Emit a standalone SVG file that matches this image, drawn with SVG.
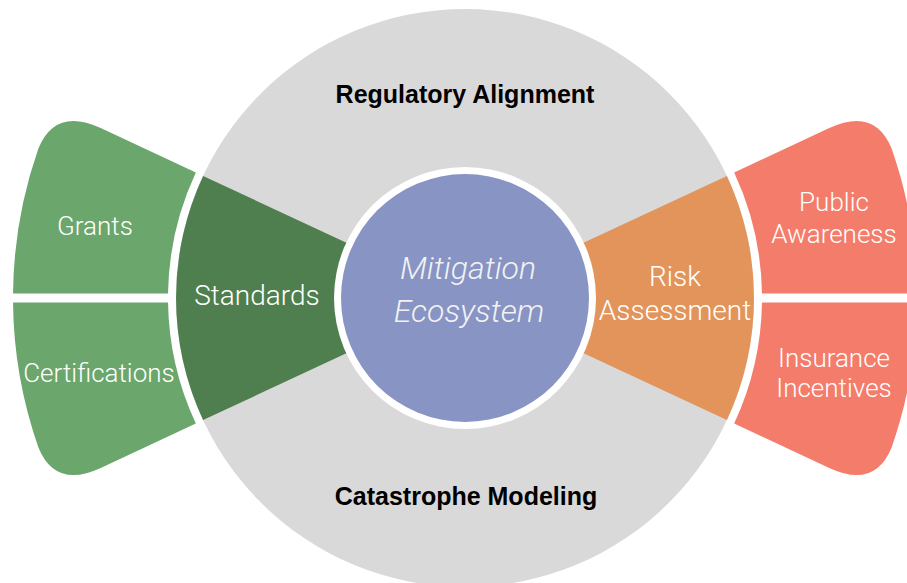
<svg xmlns="http://www.w3.org/2000/svg" width="907" height="583" viewBox="0 0 907 583">
  <style>
    .ring { fill: #D9D9D9; }
    .core-seg { stroke: none; }
    .left-core { fill: #4F7F4E; }
    .right-core { fill: #E2945A; }
    .left-outer { fill: #6BA66C; }
    .right-outer { fill: #F47C6A; }
    .hub-rim { fill: #FFFFFF; }
    .hub { fill: #8794C4; }
    .ring-label { font-family: "Liberation Sans", Arial, sans-serif; font-weight: bold; font-size: 25px; fill: #000000; text-anchor: middle; }
    .label { font-family: Roboto, "Noto Sans", sans-serif; font-weight: 300; fill: #FFFFFF; text-anchor: middle; }
    .lg { font-size: 28px; }
    .sm { font-size: 26px; }
    .hub-label { font-family: Roboto, "Noto Sans", sans-serif; font-weight: 300; font-style: italic; font-size: 32px; fill: #F2F2F2; text-anchor: middle; }
  </style>

  <!-- outer ring carrying the two framework labels -->
  <g id="ring">
    <circle class="ring" cx="465" cy="298" r="289"/>
    <text class="ring-label" x="465" y="103">Regulatory Alignment</text>
    <text class="ring-label" x="466" y="505">Catastrophe Modeling</text>
  </g>

  <!-- inner wedges on either side of the hub -->
  <g id="standards">
    <path class="left-core" d="M465,298 L203.1,175.9 A289,289 0 0 0 203.1,420.1 Z"/>
    <text class="label lg" x="257" y="305">Standards</text>
  </g>
  <g id="risk-assessment">
    <path class="right-core" d="M465,298 L726.9,175.9 A289,289 0 0 1 726.9,420.1 Z"/>
    <text class="label lg" x="675" y="286">Risk</text>
    <text class="label lg" x="675" y="320">Assessment</text>
  </g>

  <!-- outer lobes, split in two by a white gap -->
  <g id="grants">
    <path class="left-outer" d="M168.03,293.5 A297,297 0 0 1 195.83,172.49 L100.7,128.1 Q55.35,106.98 38.4,148.6 A452,452 0 0 0 13.02,293.5 Z"/>
    <text class="label sm" x="95" y="235">Grants</text>
  </g>
  <g id="certifications">
    <path class="left-outer" d="M168.03,302.5 A297,297 0 0 0 195.83,423.51 L100.7,467.9 Q55.35,489.02 38.4,447.4 A452,452 0 0 1 13.02,302.5 Z"/>
    <text class="label sm" x="99" y="382">Certifications</text>
  </g>
  <g id="public-awareness">
    <path class="right-outer" d="M761.97,293.5 A297,297 0 0 0 734.17,172.49 L829.3,128.1 Q874.65,106.98 891.6,148.6 A452,452 0 0 1 916.98,293.5 Z"/>
    <text class="label sm" x="834" y="211">Public</text>
    <text class="label sm" x="834" y="243">Awareness</text>
  </g>
  <g id="insurance-incentives">
    <path class="right-outer" d="M761.97,302.5 A297,297 0 0 1 734.17,423.51 L829.3,467.9 Q874.65,489.02 891.6,447.4 A452,452 0 0 0 916.98,302.5 Z"/>
    <text class="label sm" x="834" y="367">Insurance</text>
    <text class="label sm" x="834" y="397">Incentives</text>
  </g>

  <!-- central hub -->
  <g id="hub">
    <circle class="hub-rim" cx="465" cy="298" r="131"/>
    <circle class="hub" cx="465" cy="298" r="124"/>
    <text class="hub-label" x="468" y="279">Mitigation</text>
    <text class="hub-label" x="469" y="322">Ecosystem</text>
  </g>

  <g id="connectors"/>
</svg>
